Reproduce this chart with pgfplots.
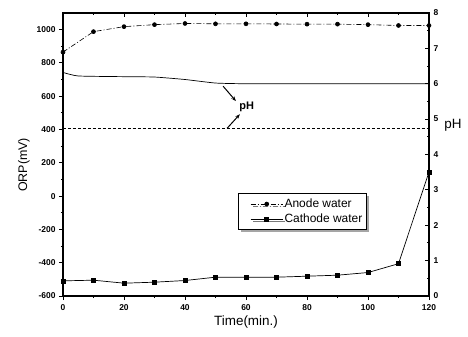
\documentclass[border=0pt]{standalone}
\usepackage{pgfplots}
\pgfplotsset{compat=1.18}
\usepackage{fontspec}
\setmainfont{Liberation Sans}
\usetikzlibrary{shadows,arrows.meta}

\pgfplotstableread{
t orp
0 865
10 988
20 1018
30 1030
40 1037
50 1035
60 1035
70 1034
80 1033
90 1033
100 1030
110 1025
120 1025
}\anode
\pgfplotstableread{
t orp
0 -509
10 -505
20 -523
30 -517
40 -507
50 -487
60 -487
70 -487
80 -481
90 -475
100 -459
110 -406
120 145
}\cathode
\pgfplotstableread{
t ph
0 6.32
5 6.22
20 6.20
30 6.19
40 6.12
50 6.02
60 6.00
80 6.00
100 6.00
120 6.00
}\phup
\pgfplotstableread{
t ph
0 4.73
30 4.73
60 4.73
90 4.73
120 4.73
}\phlow

\begin{document}
\begin{tikzpicture}
\pgfplotsset{
  common/.style={
    at={(0,0)}, anchor=south west,
    width=366bp, height=283bp, scale only axis,
    xmin=0, xmax=120,
    axis line style={line width=1.2pt},
    major tick length=4bp, minor tick length=2bp,
    every tick/.style={black, line width=0.9pt},
    /pgf/number format/assume math mode=true,
    /pgf/number format/1000 sep={},
    tick label style={font=\fontsize{8.5}{9}\selectfont\bfseries},
  }
}
\begin{axis}[common,
  ymin=-600, ymax=1100,
  xtick={0,20,...,120}, minor x tick num=1,
  ytick={-600,-400,...,1000}, minor y tick num=1,
  xtick pos=lower, ytick pos=lower, tick align=outside,
  xticklabel style={yshift=-1bp},
  xlabel={Time(min.)},
  xlabel style={font=\fontsize{13.5}{15}\selectfont, yshift=2bp},
  legend style={at={(0.478,0.364)}, anchor=north west, draw=black, line width=0.9pt,
    drop shadow={shadow xshift=2.5bp, shadow yshift=-2.5bp, fill=black!70},
    fill=white, font=\fontsize{12}{14}\selectfont,
    nodes={font=\fontsize{12}{14}\selectfont, inner sep=1.5bp}, row sep=2bp,
    inner xsep=3bp, inner ysep=4bp},
  legend cell align=left,
  legend image code/.code={\path (0bp,0bp); \draw[mark repeat=2,mark phase=2,#1] plot coordinates {(9bp,0bp) (25bp,0bp) (41bp,0bp)};},
]
\addplot[black, line width=0.6pt, dash pattern=on 5bp off 2bp on 1bp off 2bp, mark=*, mark size=2bp, mark options={solid}] table[x=t,y=orp] {\anode};
\addlegendentry{Anode water}
\addplot[black, line width=0.7pt, mark=square*, mark size=2bp] table[x=t,y=orp] {\cathode};
\addlegendentry{Cathode water\hspace{12bp}}
\end{axis}
\begin{axis}[common,
  ymin=0, ymax=8,
  xtick={0,20,...,120}, minor x tick num=1, xticklabels={},
  ytick={0,...,8}, minor y tick num=1,
  xtick pos=upper, ytick pos=upper, yticklabel pos=upper, tick align=inside,
  yticklabel style={xshift=1bp},
]
\addplot[black, line width=0.7pt, smooth, tension=0.3] table[x=t,y=ph] {\phup};
\addplot[black, line width=0.6pt, densely dashed] table[x=t,y=ph] {\phlow};
\node[font=\fontsize{11}{13}\selectfont\bfseries] at (axis cs:60.2,5.34) {pH};
\draw[line width=1pt, -{Stealth[length=5bp]}] (axis cs:52.5,5.93) -- (axis cs:56.7,5.51);
\draw[line width=1pt, -{Stealth[length=5bp]}] (axis cs:53.8,4.74) -- (axis cs:58,5.14);
\coordinate (rlab) at (rel axis cs:1,0.605);
\coordinate (llab) at (rel axis cs:0,0.463);
\end{axis}
\node[font=\fontsize{13.5}{15}\selectfont] at ([xshift=24bp]rlab) {pH};
\node[rotate=90, font=\fontsize{12.5}{14}\selectfont] at ([xshift=-39bp]llab) {ORP(mV)};
\pgfresetboundingbox
\useasboundingbox (-63bp,-41bp) rectangle (405bp,296bp);
\end{tikzpicture}
\end{document}
